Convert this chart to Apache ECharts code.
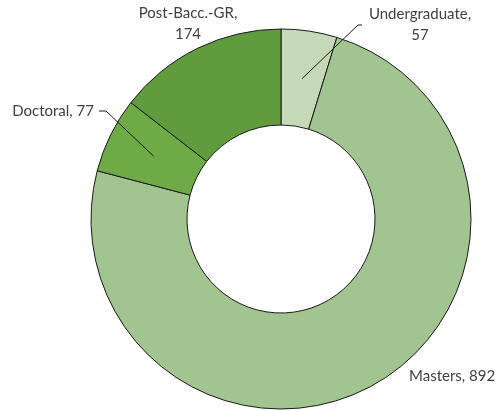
<!DOCTYPE html>
<html><head><meta charset="UTF-8">
<title>Enrollment donut</title>
<script src="https://cdn.jsdelivr.net/npm/echarts@6/dist/echarts.min.js"></script>
<style>html,body{margin:0;padding:0;background:#fff}</style>
</head>
<body>
<div id="g1" style="width:501px;height:411px;"></div>
<script type="text/javascript">
// data
var categories = ['Undergraduate', 'Masters', 'Doctoral', 'Post-Bacc.-GR'];
var values = [57, 892, 77, 174];
var labelTexts = ['Undergraduate,\n57', 'Masters, 892', 'Doctoral, 77', 'Post-Bacc.-GR,\n174'];
var colors = ['#c5d9b8', '#a2c490', '#6eab47', '#609b3e'];

var cx = 281, cy = 219, rIn = 94, rOut = 190;

// where each label sits, and whether it gets a leader line
var labelPos = [
    {x: 420, y: 25, align: 'center', line: [362, 25]},
    {x: 409, y: 376, align: 'left', line: null},
    {x: 94, y: 111, align: 'right', line: [99, 111]},
    {x: 188, y: 24, align: 'center', line: null}
];

var total = values.reduce(function(a, b) { return a + b; }, 0);
// middle of a slice, half way through the ring
function anchor(i) {
    var before = 0;
    for (var k = 0; k < i; k++) before += values[k];
    var a = (before + values[i] / 2) / total * Math.PI * 2;
    var r = (rIn + rOut) / 2;
    return [cx + r * Math.sin(a), cy - r * Math.cos(a)];
}

var sliceData = categories.map(function(name, i) {
    return {name: name, value: values[i], itemStyle: {color: colors[i]}};
});
// same slices again, see-through, only to carry labels over the ring
var labelData = categories.map(function(name, i) {
    return {
        name: name,
        value: values[i],
        label: {formatter: labelTexts[i]},
        labelLine: {show: labelPos[i].line != null}
    };
});

var option = {
    animation: false,
    series: [{
        type: 'pie',
        z: 2,
        center: [cx, cy],
        radius: [rIn, rOut],
        startAngle: 90,
        data: sliceData,
        itemStyle: {borderColor: '#1a1a1a', borderWidth: 1},
        label: {show: false},
        labelLine: {show: false},
        silent: true
    }, {
        type: 'pie',
        z: 5,
        center: [cx, cy],
        radius: [rIn, rOut],
        startAngle: 90,
        data: labelData,
        itemStyle: {color: 'rgba(0,0,0,0)', borderWidth: 0},
        label: {
            show: true,
            position: 'outside',
            color: '#404040',
            fontFamily: 'Lato',
            fontSize: 15,
            lineHeight: 21,
            align: 'center',
            overflow: 'none'
        },
        labelLine: {
            lineStyle: {color: '#1a1a1a', width: 1},
            length: 10,
            length2: 5
        },
        labelLayout: function(p) {
            var lp = labelPos[p.dataIndex];
            var out = {x: lp.x, y: lp.y, align: lp.align, verticalAlign: 'middle'};
            if (lp.line) {
                var a = anchor(p.dataIndex);
                var knee = p.dataIndex == 0 ? [lp.line[0] - 4, lp.line[1]] : [lp.line[0] + 7, lp.line[1]];
                out.labelLinePoints = [a, knee, lp.line];
            }
            return out;
        }
    }]
};
var myChart = echarts.init(document.getElementById('g1'));
myChart.setOption(option);
</script>
</body></html>
